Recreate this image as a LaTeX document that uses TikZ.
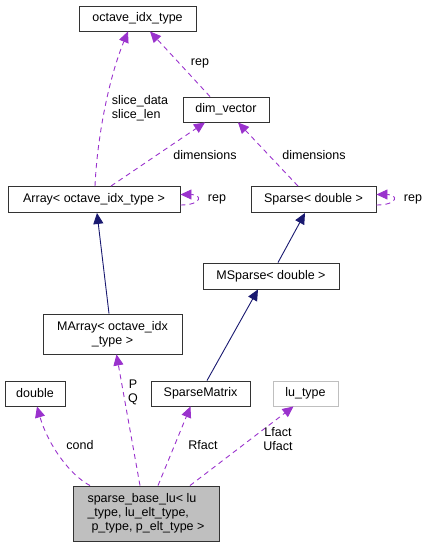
\documentclass[tikz,border=0pt]{standalone}
\usepackage{fontspec}
\setmainfont{Liberation Sans}
\usetikzlibrary{arrows.meta}
\definecolor{dep}{HTML}{9A32CD}
\definecolor{inh}{HTML}{191970}
\begin{document}
\begin{tikzpicture}[x=1pt,y=-1pt,
  box/.style={draw=black!80,line width=0.9pt,fill=white,rectangle,inner sep=0pt,font=\fontsize{12.5}{14}\selectfont,text=black},
  lbl/.style={font=\fontsize{12.5}{14}\selectfont,inner sep=0pt,align=center},
  depe/.style={draw=dep,line width=0.9pt,dash pattern=on 5pt off 4pt,-{Triangle[length=11pt,width=10pt,fill=dep]}},
  inhe/.style={draw=inh,line width=0.9pt,-{Triangle[length=11pt,width=10pt,fill=inh]}}]
\useasboundingbox (0,0) rectangle (429,547);
\node[box,minimum width=117pt,minimum height=25pt] (oit) at (137.5,18.5) {octave\_idx\_type};
\node[box,minimum width=86pt,minimum height=25pt] (dv) at (226,109.5) {dim\_vector};
\node[box,minimum width=172pt,minimum height=26pt] (arr) at (94,199.5) {Array< octave\_idx\_type >};
\node[box,minimum width=125pt,minimum height=26pt] (sp) at (313.5,199.5) {Sparse< double >};
\node[box,minimum width=136pt,minimum height=26pt] (msp) at (271,276) {MSparse< double >};
\node[box,minimum width=139pt,minimum height=40pt,align=center] (ma) at (112.5,334) {MArray< octave\_idx\\\_type >};
\node[box,minimum width=60pt,minimum height=25pt] (dbl) at (35,393.5) {double};
\node[box,minimum width=99pt,minimum height=25pt] (sm) at (200.5,393.5) {SparseMatrix};
\node[box,draw=black!25,minimum width=65pt,minimum height=25pt] (lu) at (305.5,393.5) {lu\_type};
\node[box,fill=black!25,minimum width=146pt,minimum height=55pt,align=left] (sbl) at (146,513.5) {sparse\_base\_lu< lu\\\_type, lu\_elt\_type,\\\hspace{4pt}p\_type, p\_elt\_type >};
% inheritance
\draw[inhe] ([xshift=-3.5pt]ma.north) -- ([xshift=3pt]arr.south);
\draw[inhe] ([xshift=7pt]msp.north) -- ([xshift=-8.5pt]sp.south);
\draw[inhe] ([xshift=6.5pt]sm.north) -- ([xshift=-13pt]msp.south);
% dependencies
\draw[depe] ([xshift=1pt]arr.north) .. controls (97,140) and (108,80) .. ([xshift=-9.5pt]oit.south);
\node[lbl,align=left] (l1) at (140,108) {slice\_data\\slice\_len};
\draw[depe] ([xshift=-16pt]dv.north) -- ([xshift=12.5pt]oit.south);
\node[lbl] (l2) at (200,63) {rep};
\draw[depe] ([xshift=17pt]arr.north) -- ([xshift=-21pt]dv.south);
\node[lbl] (l3) at (205,155) {dimensions};
\draw[depe] ([xshift=-15.5pt]sp.north) -- ([xshift=12pt]dv.south);
\node[lbl] (l4) at (314,155) {dimensions};
\draw[depe] ([yshift=-5.5pt]arr.east) .. controls +(22,0) and +(22,0) .. ([yshift=5pt]arr.east);
\node[lbl] (l5) at (217,199) {rep};
\draw[depe] ([yshift=-5.5pt]sp.east) .. controls +(22,0) and +(22,0) .. ([yshift=5pt]sp.east);
\node[lbl] (l6) at (413,199) {rep};
\draw[depe] ([xshift=-56pt]sbl.north) .. controls (70,475) and (48,445) .. ([xshift=2pt]dbl.south);
\node[lbl] (l7) at (80,445) {cond};
\draw[depe] ([xshift=-6pt]sbl.north) -- ([xshift=4pt]ma.south);
\node[lbl] (l8) at (133,392) {P\\Q};
\draw[depe] ([xshift=12pt]sbl.north) -- ([xshift=-10pt]sm.south);
\node[lbl] (l9) at (203,445) {Rfact};
\draw[depe] ([xshift=44pt]sbl.north) -- ([xshift=-12pt]lu.south);
\node[lbl] (l10) at (278,439) {Lfact\\Ufact};
\end{tikzpicture}
\end{document}
